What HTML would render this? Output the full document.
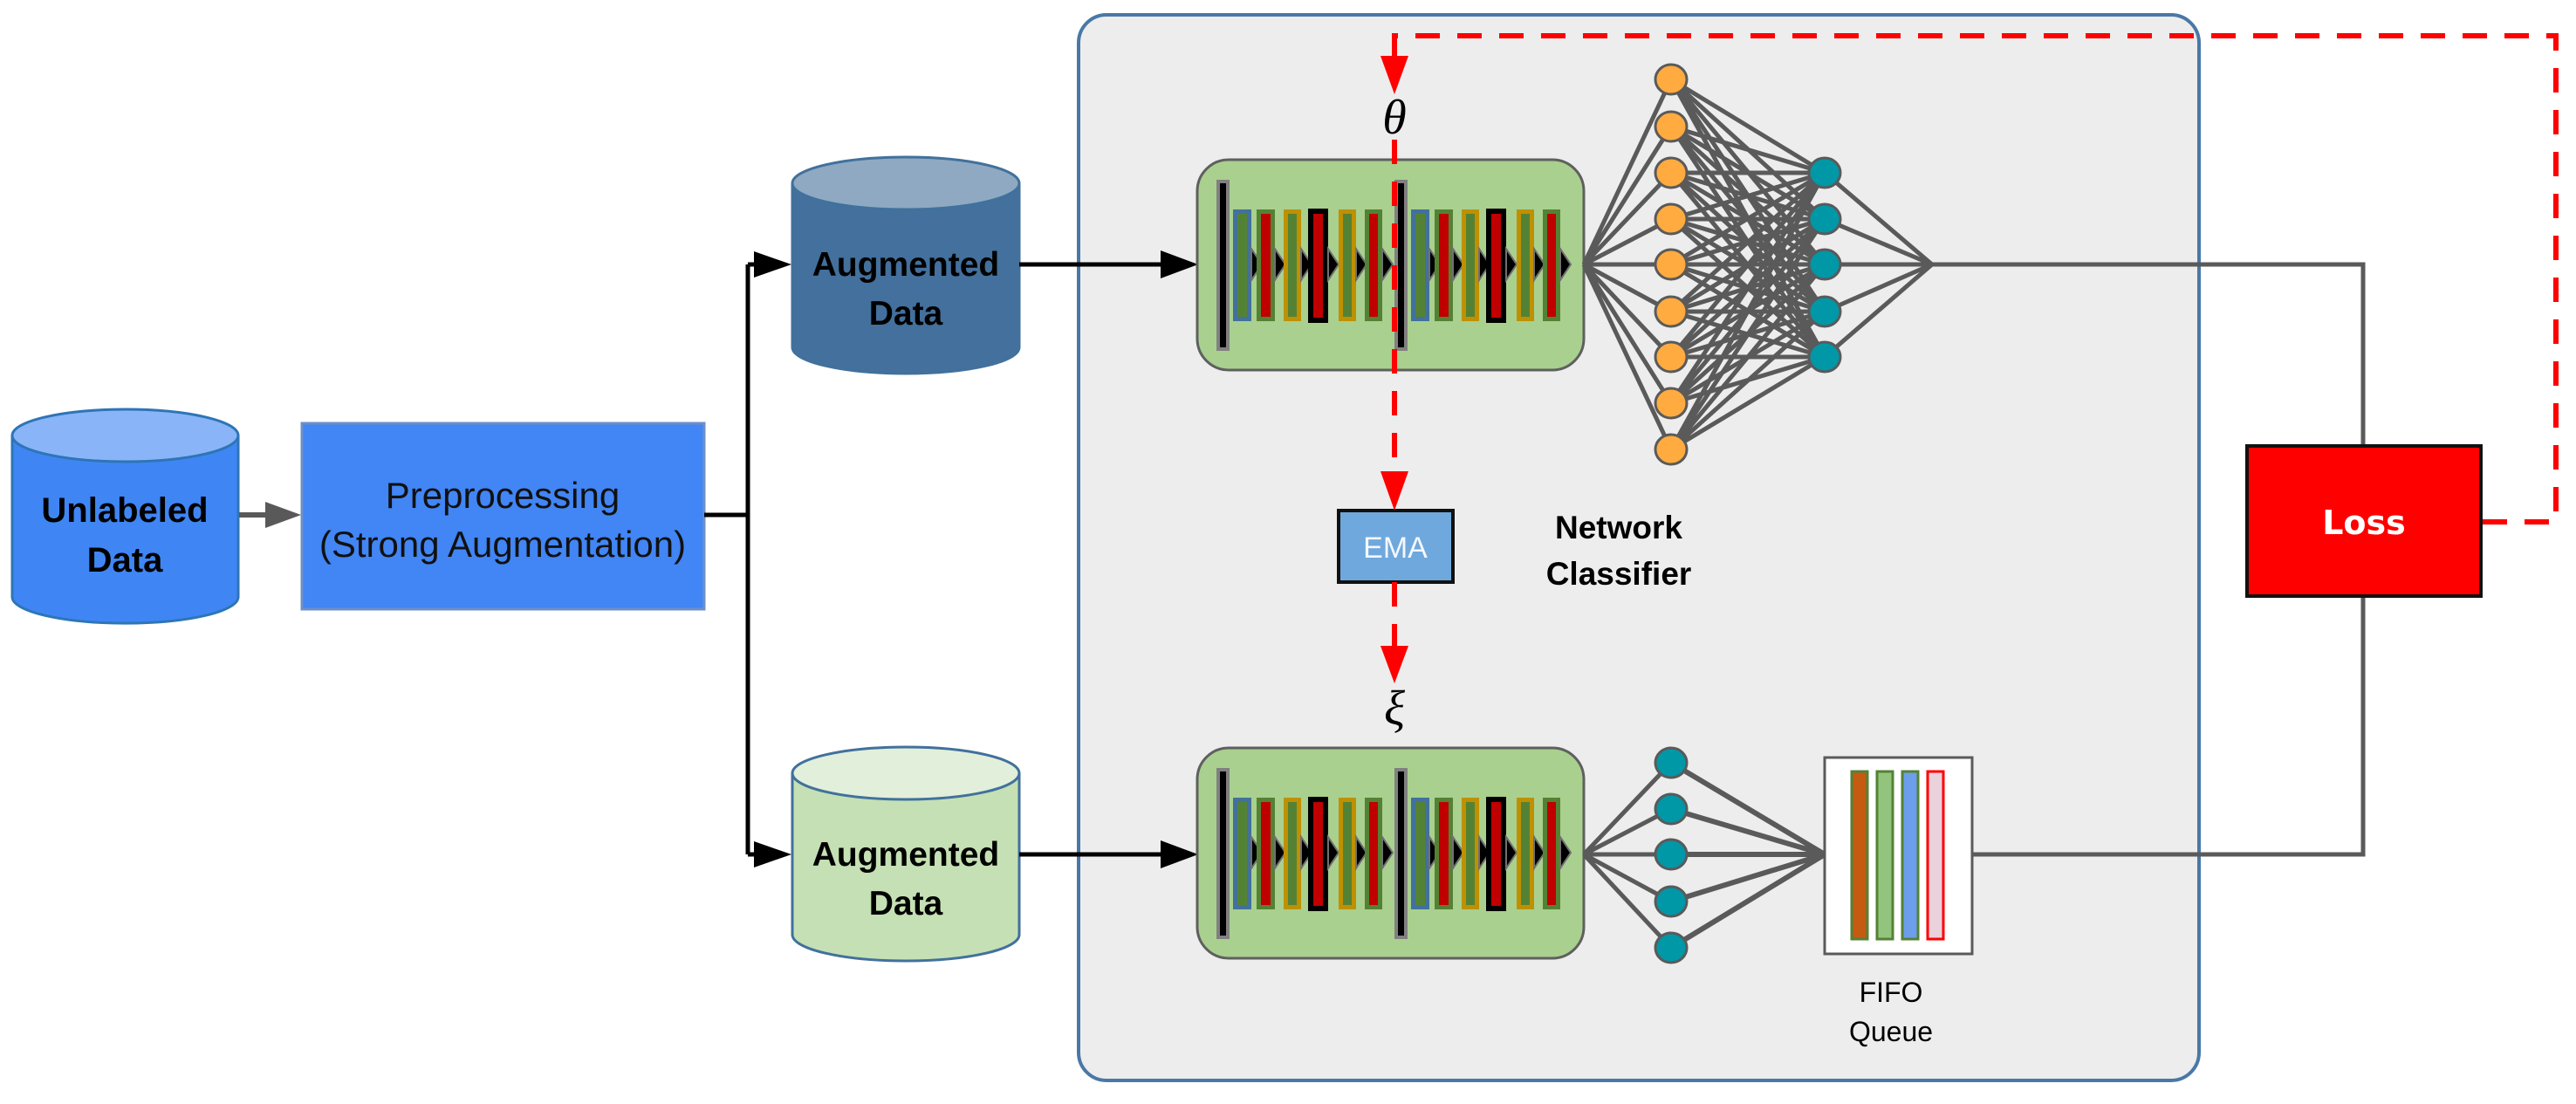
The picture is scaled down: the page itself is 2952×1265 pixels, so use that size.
<!DOCTYPE html>
<html><head><meta charset="utf-8"><style>
html,body{margin:0;padding:0;background:#fff;}
svg{display:block;}
</style></head><body>
<svg width="2952" height="1265" viewBox="0 0 2952 1265" xmlns="http://www.w3.org/2000/svg">
<defs>
<g id="half">
  <rect x="24" y="25" width="11" height="192" fill="#000" stroke="#808080" stroke-width="4"/>
  <rect x="43.5" y="59.5" width="16" height="123" fill="#548235" stroke="#41719c" stroke-width="5"/>
  <path d="M62,285 L74,303 L62,321Z" transform="translate(0,-183)" fill="#000" stroke="#707070" stroke-width="2"/>
  <rect x="70.5" y="59.5" width="16" height="123" fill="#c00000" stroke="#548235" stroke-width="5"/>
  <path d="M89,285 L101,303 L89,321Z" transform="translate(0,-183)" fill="#000" stroke="#707070" stroke-width="2"/>
  <rect x="101.5" y="59.5" width="15" height="123" fill="#548235" stroke="#bf9000" stroke-width="5"/>
  <path d="M119,285 L131,303 L119,321Z" transform="translate(0,-183)" fill="#000" stroke="#707070" stroke-width="2"/>
  <rect x="130" y="59" width="17" height="125" fill="#c00000" stroke="#000" stroke-width="6"/>
  <path d="M150,285 L162,303 L150,321Z" transform="translate(0,-183)" fill="#000" stroke="#707070" stroke-width="2"/>
  <rect x="164.5" y="59.5" width="15" height="123" fill="#548235" stroke="#bf9000" stroke-width="5"/>
  <path d="M182,285 L194,303 L182,321Z" transform="translate(0,-183)" fill="#000" stroke="#707070" stroke-width="2"/>
  <rect x="194.5" y="59.5" width="15" height="123" fill="#c00000" stroke="#548235" stroke-width="5"/>
  <path d="M212,285 L224,303 L212,321Z" transform="translate(0,-183)" fill="#000" stroke="#707070" stroke-width="2"/>
</g>
<g id="block">
  <rect x="0" y="0" width="443" height="241" rx="36" fill="#a9d08e" stroke="#5f5f5f" stroke-width="3"/>
  <use href="#half"/>
  <use href="#half" transform="translate(204,0)"/>
</g>
</defs>

<rect x="1236" y="17" width="1284" height="1221" rx="32" fill="#ededed" stroke="#4a78a6" stroke-width="4"/>

<g stroke="#2e75b6" stroke-width="3">
  <path d="M14,499 V684 A129,30 0 0 0 273,684 V499" fill="#3f86f4"/>
  <ellipse cx="143.5" cy="499" rx="129.5" ry="30" fill="#8ab4f8"/>
</g>
<text x="143" y="598" font-family="Liberation Sans, sans-serif" font-weight="bold" font-size="40" text-anchor="middle">Unlabeled</text>
<text x="143" y="655" font-family="Liberation Sans, sans-serif" font-weight="bold" font-size="40" text-anchor="middle">Data</text>

<line x1="274" y1="590" x2="312" y2="590" stroke="#595959" stroke-width="6"/>
<path d="M345,590 L304,575 L304,605Z" fill="#595959"/>

<rect x="346" y="485" width="461" height="213" fill="#4285f4" stroke="#6d8fc7" stroke-width="3"/>
<text x="576" y="582" font-family="Liberation Sans, sans-serif" font-size="42" text-anchor="middle" fill="#111">Preprocessing</text>
<text x="576" y="638" font-family="Liberation Sans, sans-serif" font-size="42" text-anchor="middle" fill="#111">(Strong Augmentation)</text>

<path d="M807,590 H857 M857,303 V979" stroke="#000" stroke-width="5" fill="none"/>
<path d="M857,303 H880 M857,979 H880" stroke="#000" stroke-width="5"/>
<path d="M907,303 L864,288 L864,318Z M907,979 L864,964 L864,994Z" fill="#000"/>

<g stroke="#41719c" stroke-width="3">
  <path d="M908,210 V398 A130,30 0 0 0 1168,398 V210" fill="#43709c"/>
  <ellipse cx="1038" cy="210" rx="130" ry="30" fill="#8ea9c1"/>
  <path d="M908,886 V1071 A130,30 0 0 0 1168,1071 V886" fill="#c5e0b4"/>
  <ellipse cx="1038" cy="886" rx="130" ry="30" fill="#e2efda"/>
</g>
<text x="1038" y="316" font-family="Liberation Sans, sans-serif" font-weight="bold" font-size="39" text-anchor="middle">Augmented</text>
<text x="1038" y="372" font-family="Liberation Sans, sans-serif" font-weight="bold" font-size="39" text-anchor="middle">Data</text>
<text x="1038" y="992" font-family="Liberation Sans, sans-serif" font-weight="bold" font-size="39" text-anchor="middle">Augmented</text>
<text x="1038" y="1048" font-family="Liberation Sans, sans-serif" font-weight="bold" font-size="39" text-anchor="middle">Data</text>

<path d="M1168,303 H1345 M1168,979 H1345" stroke="#000" stroke-width="5"/>
<path d="M1373,303 L1330,287 L1330,319Z M1373,979 L1330,963 L1330,995Z" fill="#000"/>

<use href="#block" transform="translate(1372,183)"/>
<use href="#block" transform="translate(1372,857)"/>

<g stroke="#5a5a5a" stroke-width="5" fill="none">
  <path d="M1815,303 L1915,91 M1815,303 L1915,145 M1815,303 L1915,198 M1815,303 L1915,251 M1815,303 L1915,303 M1815,303 L1915,357 M1815,303 L1915,409 M1815,303 L1915,462 M1815,303 L1915,515"/>
  <path d="M1915,91 L2091,198 M1915,91 L2091,251 M1915,91 L2091,303 M1915,91 L2091,357 M1915,91 L2091,409
           M1915,145 L2091,198 M1915,145 L2091,251 M1915,145 L2091,303 M1915,145 L2091,357 M1915,145 L2091,409
           M1915,198 L2091,198 M1915,198 L2091,251 M1915,198 L2091,303 M1915,198 L2091,357 M1915,198 L2091,409
           M1915,251 L2091,198 M1915,251 L2091,251 M1915,251 L2091,303 M1915,251 L2091,357 M1915,251 L2091,409
           M1915,303 L2091,198 M1915,303 L2091,251 M1915,303 L2091,303 M1915,303 L2091,357 M1915,303 L2091,409
           M1915,357 L2091,198 M1915,357 L2091,251 M1915,357 L2091,303 M1915,357 L2091,357 M1915,357 L2091,409
           M1915,409 L2091,198 M1915,409 L2091,251 M1915,409 L2091,303 M1915,409 L2091,357 M1915,409 L2091,409
           M1915,462 L2091,198 M1915,462 L2091,251 M1915,462 L2091,303 M1915,462 L2091,357 M1915,462 L2091,409
           M1915,515 L2091,198 M1915,515 L2091,251 M1915,515 L2091,303 M1915,515 L2091,357 M1915,515 L2091,409"/>
  <path d="M2091,198 L2214,303 M2091,251 L2214,303 M2091,303 L2214,303 M2091,357 L2214,303 M2091,409 L2214,303"/>
  <path d="M2214,303 H2708 V510 M2260,979 H2708 V684" stroke-width="5"/>
  <path d="M1815,979 L1915,874 M1815,979 L1915,927 M1815,979 L1915,979 M1815,979 L1915,1033 M1815,979 L1915,1086"/>
  <path d="M1915,874 L2091,979 M1915,927 L2091,979 M1915,979 L2091,979 M1915,1033 L2091,979 M1915,1086 L2091,979" stroke-width="6"/>
</g>
<g fill="#ffab40" stroke="#5a5a5a" stroke-width="3">
  <ellipse cx="1915" cy="91" rx="18" ry="17"/><ellipse cx="1915" cy="145" rx="18" ry="17"/>
  <ellipse cx="1915" cy="198" rx="18" ry="17"/><ellipse cx="1915" cy="251" rx="18" ry="17"/>
  <ellipse cx="1915" cy="303" rx="18" ry="17"/><ellipse cx="1915" cy="357" rx="18" ry="17"/>
  <ellipse cx="1915" cy="409" rx="18" ry="17"/><ellipse cx="1915" cy="462" rx="18" ry="17"/>
  <ellipse cx="1915" cy="515" rx="18" ry="17"/>
</g>
<g fill="#0097a7" stroke="#5a5a5a" stroke-width="3">
  <ellipse cx="2091" cy="198" rx="18" ry="17"/><ellipse cx="2091" cy="251" rx="18" ry="17"/>
  <ellipse cx="2091" cy="303" rx="18" ry="17"/><ellipse cx="2091" cy="357" rx="18" ry="17"/>
  <ellipse cx="2091" cy="409" rx="18" ry="17"/>
  <ellipse cx="1915" cy="874" rx="18" ry="17"/><ellipse cx="1915" cy="927" rx="18" ry="17"/>
  <ellipse cx="1915" cy="979" rx="18" ry="17"/><ellipse cx="1915" cy="1033" rx="18" ry="17"/>
  <ellipse cx="1915" cy="1086" rx="18" ry="17"/>
</g>

<rect x="2091" y="868" width="169" height="225" fill="#fff" stroke="#5a5a5a" stroke-width="3"/>
<rect x="2122" y="884" width="18" height="192" fill="#c55a11" stroke="#548235" stroke-width="3"/>
<rect x="2151" y="884" width="18" height="192" fill="#93c47d" stroke="#548235" stroke-width="3"/>
<rect x="2180" y="884" width="18" height="192" fill="#6d9eeb" stroke="#548235" stroke-width="3"/>
<rect x="2209" y="884" width="18" height="192" fill="#ead1dc" stroke="#ff0000" stroke-width="3"/>
<text x="2167" y="1148" font-family="Liberation Sans, sans-serif" font-size="32" text-anchor="middle">FIFO</text>
<text x="2167" y="1193" font-family="Liberation Sans, sans-serif" font-size="32" text-anchor="middle">Queue</text>

<text x="1855" y="617" font-family="Liberation Sans, sans-serif" font-weight="bold" font-size="37" text-anchor="middle">Network</text>
<text x="1855" y="670" font-family="Liberation Sans, sans-serif" font-weight="bold" font-size="37" text-anchor="middle">Classifier</text>

<rect x="1534" y="585" width="131" height="82" fill="#6fa8dc" stroke="#111" stroke-width="4"/>
<text x="1599" y="639" font-family="Liberation Sans, sans-serif" font-size="34" text-anchor="middle" fill="#f4f8ff">EMA</text>

<rect x="2575" y="511" width="268" height="172" fill="#ff0000" stroke="#111" stroke-width="4"/>
<text x="2709" y="612" font-family="DejaVu Sans, sans-serif" font-weight="bold" font-size="38" text-anchor="middle" fill="#fff">Loss</text>

<g stroke="#ff0000" stroke-width="6" fill="none" stroke-dasharray="28,20">
  <path d="M2845,598 H2929 V41 H1598 V80"/>
  <path d="M1598,160 V548"/>
  <path d="M1598,667 V752"/>
</g>
<path d="M1598,108 L1582,64 L1614,64Z M1598,585 L1582,540 L1614,540Z M1598,783 L1582,740 L1614,740Z" fill="#ff0000"/>

<text x="1598" y="153" font-family="Liberation Serif, serif" font-style="italic" font-size="56" text-anchor="middle">θ</text>
<text x="1598" y="830" font-family="Liberation Serif, serif" font-style="italic" font-size="56" text-anchor="middle">ξ</text>
</svg>
</body></html>
